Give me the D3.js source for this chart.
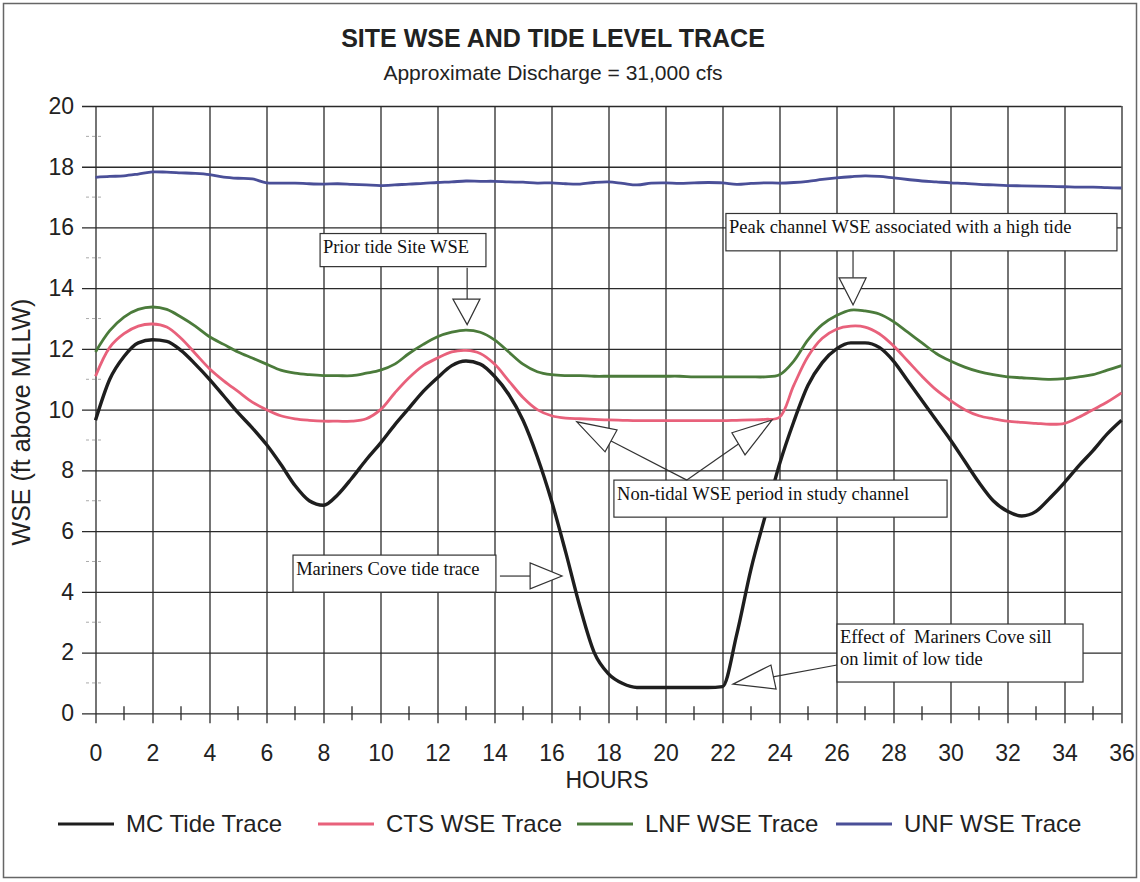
<!DOCTYPE html>
<html>
<head>
<meta charset="utf-8">
<style>
  body { margin: 0; background: #fff; }
  svg { display: block; font-family: "Liberation Sans", Arial, sans-serif; }
  .grid line { stroke: #2a2a2a; stroke-width: 1.3; }
  .grid .domain { display: none; }
  .grid text { fill: #222; font-size: 23px; }
  .note text { font-family: "Liberation Serif", "Times New Roman", serif; font-size: 18.5px; fill: #111; white-space: pre; }
</style>
</head>
<body>
<svg width="1140" height="882"></svg>
<script src="https://d3js.org/d3.v7.min.js"></script>
<script>
  // hours, every half hour
  var hours = d3.range(0, 36.01, 0.5);

  var mcTide = [9.65, 11.0, 11.75, 12.2, 12.3, 12.25, 11.95, 11.5, 11.0, 10.45,
    9.9, 9.4, 8.85, 8.2, 7.5, 7.0, 6.85, 7.2, 7.75, 8.35,
    8.9, 9.5, 10.05, 10.6, 11.05, 11.45, 11.6, 11.5, 11.1, 10.5,
    9.65, 8.45, 7.0, 5.3, 3.5, 2.0, 1.3, 0.98, 0.85, 0.85,
    0.85, 0.85, 0.85, 0.85, 0.88, 2.6, 4.75, 6.5, 8.2, 9.6,
    10.8, 11.55, 12.0, 12.2, 12.2, 12.05, 11.6, 10.95, 10.3, 9.65,
    9.0, 8.3, 7.6, 7.0, 6.65, 6.5, 6.65, 7.1, 7.6, 8.15,
    8.65, 9.2, 9.65];

  var ctsWse = [11.1, 12.05, 12.5, 12.75, 12.82, 12.72, 12.35, 11.85, 11.35, 10.95,
    10.6, 10.25, 10.0, 9.8, 9.7, 9.65, 9.62, 9.62, 9.62, 9.7,
    10.0, 10.55, 11.05, 11.45, 11.7, 11.9, 11.95, 11.85, 11.5, 10.95,
    10.4, 10.0, 9.8, 9.72, 9.7, 9.68, 9.66, 9.65, 9.64, 9.64,
    9.64, 9.64, 9.64, 9.64, 9.64, 9.65, 9.66, 9.68, 9.75, 10.8,
    11.75, 12.35, 12.65, 12.75, 12.72, 12.5, 12.1, 11.6, 11.1, 10.65,
    10.3, 10.0, 9.8, 9.7, 9.62, 9.58, 9.55, 9.52, 9.55, 9.75,
    10.0, 10.25, 10.55];

  var lnfWse = [11.9, 12.6, 13.05, 13.3, 13.38, 13.3, 13.05, 12.75, 12.4, 12.15,
    11.9, 11.7, 11.5, 11.3, 11.2, 11.15, 11.12, 11.12, 11.12, 11.2,
    11.3, 11.5, 11.85, 12.15, 12.4, 12.55, 12.62, 12.55, 12.3, 11.9,
    11.5, 11.25, 11.15, 11.12, 11.12, 11.1, 11.1, 11.1, 11.1, 11.1,
    11.1, 11.1, 11.08, 11.08, 11.08, 11.08, 11.08, 11.08, 11.15, 11.6,
    12.3, 12.8, 13.1, 13.28, 13.25, 13.15, 12.9, 12.55, 12.2, 11.85,
    11.6, 11.4, 11.25, 11.15, 11.08, 11.05, 11.02, 11.0, 11.02, 11.08,
    11.15, 11.3, 11.45];

  var unfWse = [17.65, 17.68, 17.7, 17.76, 17.83, 17.82, 17.8, 17.78, 17.74, 17.66,
    17.62, 17.6, 17.47, 17.46, 17.46, 17.44, 17.43, 17.44, 17.42, 17.4,
    17.38, 17.4, 17.43, 17.45, 17.48, 17.5, 17.53, 17.52, 17.52, 17.5,
    17.49, 17.46, 17.47, 17.44, 17.43, 17.48, 17.5, 17.45, 17.4, 17.46,
    17.47, 17.45, 17.47, 17.48, 17.47, 17.42, 17.45, 17.47, 17.46, 17.48,
    17.52, 17.58, 17.63, 17.67, 17.7, 17.68, 17.63, 17.58, 17.53, 17.5,
    17.47, 17.45, 17.42, 17.4, 17.38, 17.37, 17.36, 17.35, 17.34, 17.33,
    17.33, 17.31, 17.3];

  var seriesNames = ["MC Tide Trace", "CTS WSE Trace", "LNF WSE Trace", "UNF WSE Trace"];
  var seriesColors = ["#1e1e1e", "#e8617b", "#4b7b3b", "#4a4f98"];
  var seriesValues = [mcTide, ctsWse, lnfWse, unfWse];

  var xTicks = d3.range(0, 37, 2);
  var yTicks = d3.range(0, 21, 2);

  // callouts, placed in hours / feet
  var callouts = [
    {lines: ["Prior tide Site WSE"], box: [7.88, 13.7, 15.8, 14.71], text: [7.98, 15.17],
     stem: [[13.04, 14.67], [13.04, 13.64]], tri: [[12.54, 13.64], [13.49, 13.64], [13.04, 12.8]]},
    {lines: ["Peak channel WSE associated with a high tide"], box: [22.12, 35.84, 16.46, 15.23], text: [22.23, 15.83],
     stem: [[26.58, 15.23], [26.58, 14.34]], tri: [[26.09, 14.34], [27.04, 14.34], [26.58, 13.45]]},
    {lines: ["Non-tidal WSE period in study channel"], box: [18.19, 29.88, 7.68, 6.46], text: [18.3, 7.03],
     stem: [[20.75, 7.68], [18.09, 8.97]], tri: [[16.89, 9.6], [17.88, 8.61], [18.3, 9.33]]},
    {lines: [], stem: [[20.75, 7.68], [22.56, 8.87]], tri: [[23.74, 9.66], [22.33, 9.24], [22.79, 8.51]]},
    {lines: ["Mariners Cove tide trace"], box: [6.93, 14.05, 5.21, 3.99], text: [7.04, 4.55],
     stem: [[14.19, 4.52], [15.25, 4.52]], tri: [[15.25, 4.95], [15.25, 4.1], [16.37, 4.52]]},
    {lines: ["Effect of  Mariners Cove sill", "on limit of low tide"], box: [26.02, 34.65, 2.94, 1.03], text: [26.12, 2.32],
     stem: [[26.02, 1.59], [23.77, 1.2]], tri: [[22.37, 0.96], [23.7, 1.59], [23.88, 0.8]]}
  ];

  var svg = d3.select("svg");
  var plotLeft = 95.5, plotRight = 1121.5, plotTop = 106, plotBottom = 713.3;

  var x = d3.scaleLinear().domain([0, 36]).range([plotLeft, plotRight]);
  var y = d3.scaleLinear().domain([0, 20]).range([plotBottom, plotTop]);

  // outer frame
  svg.append("rect")
    .attr("x", 3.5).attr("y", 3.5).attr("width", 1133).attr("height", 874)
    .attr("fill", "none").attr("stroke", "#666").attr("stroke-width", 1.5);

  // title
  svg.append("text")
    .attr("x", 553).attr("y", 47)
    .attr("text-anchor", "middle")
    .attr("font-size", 25).attr("font-weight", "bold").attr("fill", "#222")
    .text("SITE WSE AND TIDE LEVEL TRACE");
  svg.append("text")
    .attr("x", 553).attr("y", 80)
    .attr("text-anchor", "middle")
    .attr("font-size", 21).attr("fill", "#222")
    .text("Approximate Discharge = 31,000 cfs");

  // minor ticks
  svg.append("g").selectAll("line")
    .data(d3.range(1, 20, 2))
    .enter().append("line")
    .attr("x1", 86).attr("x2", 103)
    .attr("y1", function(d) { return y(d); })
    .attr("y2", function(d) { return y(d); })
    .attr("stroke", "#aaa").attr("stroke-width", 1).attr("stroke-dasharray", "3,3");
  svg.append("g").selectAll("line")
    .data(d3.range(1, 36, 2))
    .enter().append("line")
    .attr("x1", function(d) { return x(d); })
    .attr("x2", function(d) { return x(d); })
    .attr("y1", plotBottom - 7).attr("y2", plotBottom + 7)
    .attr("stroke", "#2a2a2a").attr("stroke-width", 1.3);

  // vertical grid + x labels
  svg.append("g")
    .attr("class", "grid")
    .attr("transform", "translate(0," + (plotBottom + 10) + ")")
    .call(d3.axisBottom(x).tickValues(xTicks).tickSizeInner(-(plotBottom + 10 - plotTop)).tickSizeOuter(0).tickPadding(21));

  // horizontal grid + y labels
  svg.append("g")
    .attr("class", "grid")
    .attr("transform", "translate(" + plotRight + ",0)")
    .call(d3.axisLeft(y).tickValues(yTicks).tickSizeInner(plotRight - 82).tickSizeOuter(0).tickPadding(8));

  // axis titles
  svg.append("text")
    .attr("x", 607).attr("y", 788)
    .attr("text-anchor", "middle")
    .attr("font-size", 23).attr("fill", "#222")
    .text("HOURS");
  svg.append("text")
    .attr("transform", "translate(30,422) rotate(-90)")
    .attr("text-anchor", "middle")
    .attr("font-size", 25).attr("fill", "#222")
    .text("WSE (ft above MLLW)");

  // traces: tide trace keeps its sharp sill corner, site traces are smooth
  function lineFor(i) {
    return d3.line()
      .x(function(d, k) { return x(hours[k]); })
      .y(function(d) { return y(d); })
      .curve(i == 0 ? d3.curveMonotoneX : d3.curveCatmullRom.alpha(0.5));
  }

  svg.append("g").selectAll("path")
    .data(seriesValues)
    .enter().append("path")
    .attr("d", function(d, i) { return lineFor(i)(d); })
    .attr("fill", "none")
    .attr("stroke", function(d, i) { return seriesColors[i]; })
    .attr("stroke-width", function(d, i) { return i == 0 ? 3.4 : 2.8; })
    .attr("stroke-linejoin", "round");

  // callouts
  var note = svg.append("g").attr("class", "note");
  callouts.forEach(function(c) {
    if (c.box) {
      note.append("rect")
        .attr("x", x(c.box[0])).attr("y", y(c.box[2]))
        .attr("width", x(c.box[1]) - x(c.box[0]))
        .attr("height", y(c.box[3]) - y(c.box[2]))
        .attr("fill", "#fff").attr("stroke", "#333").attr("stroke-width", 1.2);
    }
    c.lines.forEach(function(t, k) {
      note.append("text")
        .attr("x", x(c.text[0]))
        .attr("y", y(c.text[1]) + k * 22)
        .text(t);
    });
    note.append("line")
      .attr("x1", x(c.stem[0][0])).attr("y1", y(c.stem[0][1]))
      .attr("x2", x(c.stem[1][0])).attr("y2", y(c.stem[1][1]))
      .attr("stroke", "#333").attr("stroke-width", 1.2);
    note.append("path")
      .attr("d", "M" + c.tri.map(function(p) { return x(p[0]) + "," + y(p[1]); }).join("L") + "Z")
      .attr("fill", "#fff").attr("stroke", "#333").attr("stroke-width", 1.2);
  });

  // legend
  var legendX = [58, 318, 577, 836];
  var legend = svg.append("g").selectAll("g")
    .data(seriesNames)
    .enter().append("g")
    .attr("transform", function(d, i) { return "translate(" + legendX[i] + ",824)"; });
  legend.append("line")
    .attr("x1", 0).attr("x2", 56)
    .attr("stroke", function(d, i) { return seriesColors[i]; })
    .attr("stroke-width", 3);
  legend.append("text")
    .attr("x", 68).attr("dy", "0.35em")
    .attr("font-size", 24).attr("fill", "#222")
    .text(function(d) { return d; });
</script>
</body>
</html>
